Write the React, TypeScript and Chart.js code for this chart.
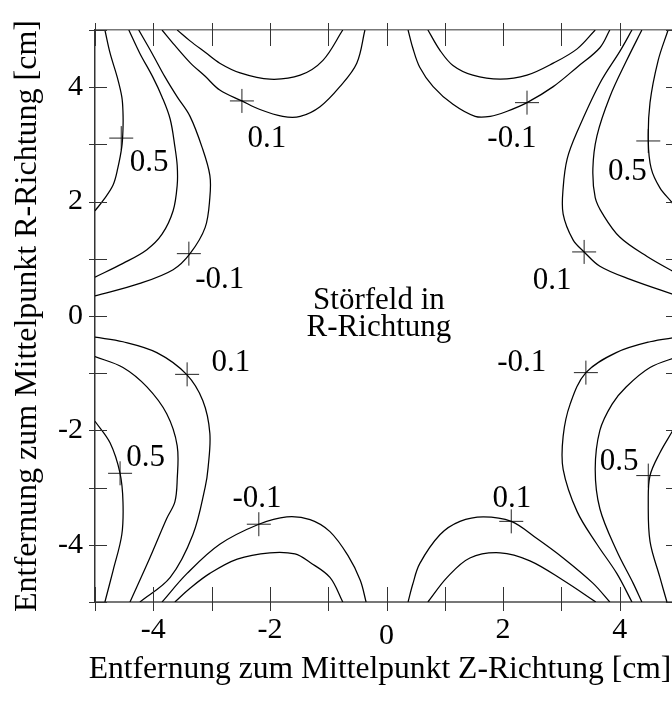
import React, { useEffect, useRef } from 'react';
import { Chart, registerables } from 'chart.js';
Chart.register(...registerables);

type P = [number, number];

// ---- contour lines (data units, cm) ----
// top-left quadrant
const curveTL_A: P[] = [[-4.83, 5.0], [-4.74, 4.59], [-4.62, 4.18], [-4.54, 3.83], [-4.52, 3.56], [-4.52, 3.27], [-4.54, 2.96], [-4.61, 2.58], [-4.69, 2.29], [-4.86, 2.02], [-5.0, 1.84]];
const curveTL_B: P[] = [[-4.42, 5.0], [-4.23, 4.59], [-4.01, 4.18], [-3.85, 3.83], [-3.71, 3.44], [-3.63, 2.96], [-3.59, 2.63], [-3.59, 2.29], [-3.66, 1.84], [-3.85, 1.43], [-4.11, 1.16], [-4.52, 0.92], [-5.0, 0.68]];
const curveTL_C: P[] = [[-4.25, 5.0], [-4.02, 4.59], [-3.80, 4.18], [-3.59, 3.83], [-3.37, 3.49], [-3.16, 2.94], [-3.03, 2.46], [-3.03, 2.07], [-3.11, 1.55], [-3.37, 1.09], [-3.66, 0.81], [-4.23, 0.57], [-5.0, 0.35]];
const curveTL_D: P[] = [[-3.85, 5.0], [-3.63, 4.73], [-3.37, 4.43], [-3.11, 4.19], [-2.86, 3.95], [-2.48, 3.76], [-2.17, 3.61], [-1.78, 3.49], [-1.48, 3.49], [-1.14, 3.66], [-0.80, 4.01], [-0.51, 4.42], [-0.37, 5.0]];
const curveTL_E: P[] = [[-3.59, 5.0], [-3.37, 4.81], [-3.11, 4.61], [-2.86, 4.42], [-2.51, 4.25], [-2.00, 4.14], [-1.48, 4.21], [-1.09, 4.47], [-0.75, 5.0]];
// top-right quadrant
const curveTR_A: P[] = [[4.83, 5.0], [4.66, 4.47], [4.52, 3.73], [4.49, 3.06], [4.54, 2.58], [4.69, 2.24], [4.90, 1.98], [5.0, 1.84]];
const curveTR_B: P[] = [[4.38, 5.0], [4.12, 4.47], [3.83, 3.83], [3.61, 3.15], [3.54, 2.58], [3.58, 2.07], [3.71, 1.78], [4.00, 1.38], [4.47, 1.04], [5.0, 0.73]];
const curveTR_C: P[] = [[4.21, 5.0], [4.01, 4.64], [3.66, 4.07], [3.27, 3.22], [3.10, 2.75], [3.03, 2.24], [3.03, 1.78], [3.20, 1.33], [3.39, 1.12], [3.66, 0.87], [4.18, 0.64], [5.0, 0.35]];
const curveTR_D: P[] = [[0.37, 5.0], [0.45, 4.69], [0.57, 4.35], [0.80, 4.01], [1.14, 3.70], [1.52, 3.49], [1.78, 3.49], [2.07, 3.58], [2.41, 3.73], [2.86, 4.01], [3.27, 4.35], [3.66, 4.69], [3.83, 5.0]];
const curveTR_E: P[] = [[0.71, 5.0], [0.92, 4.64], [1.14, 4.38], [1.48, 4.21], [1.95, 4.14], [2.41, 4.21], [2.86, 4.42], [3.27, 4.67], [3.58, 5.0]];
// bottom-left quadrant
const curveBL_A: P[] = [[-5.0, -1.84], [-4.74, -2.22], [-4.57, -2.75], [-4.52, -3.25], [-4.54, -3.82], [-4.69, -4.45], [-4.83, -5.0]];
const curveBL_B: P[] = [[-5.0, -0.71], [-4.52, -0.90], [-4.11, -1.24], [-3.77, -1.71], [-3.59, -2.27], [-3.59, -2.86], [-3.63, -3.25], [-3.77, -3.54], [-4.06, -4.23], [-4.40, -5.0]];
const curveBL_C: P[] = [[-5.0, -0.37], [-4.52, -0.45], [-3.94, -0.64], [-3.43, -1.02], [-3.15, -1.48], [-3.03, -2.05], [-3.06, -2.65], [-3.11, -2.99], [-3.32, -3.82], [-3.71, -4.57], [-4.23, -5.0]];
const curveBL_D: P[] = [[-3.85, -5.0], [-3.42, -4.50], [-2.86, -3.99], [-2.19, -3.64], [-1.71, -3.51], [-1.31, -3.56], [-0.97, -3.77], [-0.66, -4.19], [-0.45, -4.62], [-0.35, -5.0]];
const curveBL_E: P[] = [[-3.63, -5.0], [-3.37, -4.76], [-3.03, -4.50], [-2.56, -4.25], [-2.00, -4.14], [-1.57, -4.16], [-1.31, -4.31], [-0.97, -4.57], [-0.75, -5.0]];
// bottom-right quadrant
const curveBR_A: P[] = [[5.0, -1.84], [4.90, -2.02], [4.69, -2.39], [4.52, -2.79], [4.49, -3.25], [4.52, -3.94], [4.69, -4.57], [4.81, -5.0]];
const curveBR_B: P[] = [[5.0, -0.71], [4.52, -0.90], [4.11, -1.24], [3.87, -1.54], [3.66, -2.00], [3.58, -2.68], [3.66, -3.37], [3.95, -4.11], [4.23, -4.67], [4.38, -5.0]];
const curveBR_C: P[] = [[5.0, -0.37], [4.52, -0.45], [3.94, -0.64], [3.42, -0.99], [3.15, -1.54], [3.03, -2.10], [3.03, -2.68], [3.27, -3.42], [3.61, -3.99], [3.95, -4.50], [4.21, -5.0]];
const curveBR_D: P[] = [[0.37, -5.0], [0.45, -4.69], [0.57, -4.33], [0.92, -3.82], [1.26, -3.59], [1.66, -3.51], [2.14, -3.59], [2.58, -3.89], [3.03, -4.23], [3.54, -4.67], [3.83, -5.0]];
const curveBR_E: P[] = [[0.71, -5.0], [1.04, -4.57], [1.43, -4.23], [1.95, -4.14], [2.46, -4.28], [3.03, -4.62], [3.59, -5.0]];

// label crosses
const crossX = [-4.55, -2.48, -3.39, 2.41, 4.49, 3.39, -3.42, -4.57, -2.19, 2.14, 4.49, 3.42];
const crossY = [3.11, 3.76, 1.09, 3.73, 3.06, 1.12, -1.02, -2.75, -3.64, -3.59, -2.79, -0.99];

// level labels
const labelText = ['0.1', '0.5', '-0.1', '-0.1', '0.5', '0.1', '0.1', '0.5', '-0.1', '0.1', '0.5', '-0.1'];
const labelX = [-2.05, -4.07, -2.86, 2.15, 4.13, 2.84, -2.67, -4.13, -2.22, 2.15, 3.99, 2.32];
const labelY = [2.96, 2.53, 0.49, 2.96, 2.38, 0.47, -0.97, -2.62, -3.34, -3.34, -2.70, -0.97];

const centerText = ['Störfeld in', 'R-Richtung'];
const centerX = [-0.13, -0.13];
const centerY = [0.13, -0.35];

const tickValues = [-5, -4, -3, -2, -1, 0, 1, 2, 3, 4, 5];
const labeledTicks = [-4, -2, 0, 2, 4];

const xTitle = 'Entfernung zum Mittelpunkt Z-Richtung [cm]';
const yTitle = 'Entfernung zum Mittelpunkt R-Richtung [cm]';

const FAMILY = "'Liberation Serif', 'Times New Roman', serif";

export default function App() {
  const ref = useRef<HTMLCanvasElement>(null);

  useEffect(() => {
    const canvas = ref.current;
    if (!canvas) return;

    const curves: P[][] = [
      curveTL_A, curveTL_B, curveTL_C, curveTL_D, curveTL_E,
      curveTR_A, curveTR_B, curveTR_C, curveTR_D, curveTR_E,
      curveBL_A, curveBL_B, curveBL_C, curveBL_D, curveBL_E,
      curveBR_A, curveBR_B, curveBR_C, curveBR_D, curveBR_E,
    ];

    const lineSets = curves.map((c) => ({
      data: c.map(([x, y]) => ({ x, y })),
      showLine: true,
      pointRadius: 0,
      borderColor: '#000',
      borderWidth: 1.25,
      tension: 0.35,
      fill: false,
    }));

    const crossSet = {
      data: crossX.map((x, i) => ({ x, y: crossY[i] })),
      showLine: false,
      pointStyle: 'cross',
      pointRadius: 12,
      borderColor: '#222',
      borderWidth: 1,
      backgroundColor: 'transparent',
    };

    const annot = {
      id: 'annot',
      afterDatasetsDraw(chart: any) {
        const { ctx, chartArea } = chart;
        const xs = chart.scales.x;
        const ys = chart.scales.y;
        const { left, right, top, bottom } = chartArea;
        ctx.save();
        ctx.strokeStyle = '#333';
        ctx.lineWidth = 1;
        const seg = (a: number, b: number, c: number, d: number) => {
          ctx.beginPath();
          ctx.moveTo(a, b);
          ctx.lineTo(c, d);
          ctx.stroke();
        };
        tickValues.forEach((v) => {
          const px = Math.round(xs.getPixelForValue(v)) + 0.5;
          seg(px, bottom - 15, px, bottom + 9);
          seg(px, top - 7, px, top + 16);
          const py = Math.round(ys.getPixelForValue(v)) + 0.5;
          seg(left - 6, py, left + 12, py);
          seg(right - 12, py, right + 6, py);
        });
        ctx.fillStyle = '#000';
        ctx.font = `31px ${FAMILY}`;
        ctx.textAlign = 'center';
        ctx.textBaseline = 'alphabetic';
        labelText.forEach((t, i) => {
          ctx.fillText(t, xs.getPixelForValue(labelX[i]), ys.getPixelForValue(labelY[i]));
        });
        centerText.forEach((t, i) => {
          ctx.fillText(t, xs.getPixelForValue(centerX[i]), ys.getPixelForValue(centerY[i]));
        });
        // x-axis title (drawn here so it may extend past the plot width, as in the original)
        ctx.font = `31.6px ${FAMILY}`;
        ctx.fillText(xTitle, (left + right) / 2 - 6.5, bottom + 76);
        ctx.restore();
      },
    };

    const tickCallback = (v: any) => {
      const n = Number(v);
      return labeledTicks.includes(n) ? String(n) : '';
    };

    const chart = new Chart(canvas, {
      type: 'scatter',
      data: { datasets: [...lineSets, crossSet] as any },
      options: {
        responsive: false,
        animation: false,
        events: [],
        layout: { padding: { top: 19, right: 22, bottom: 0, left: 0 } },
        plugins: { legend: { display: false }, tooltip: { enabled: false } },
        scales: {
          x: {
            type: 'linear',
            position: 'bottom',
            min: -5,
            max: 5,
            afterFit: (s: any) => { s.height = 100; },
            grid: { display: false, drawTicks: false, tickLength: 0 },
            border: { display: true, color: '#777', width: 2 },
            ticks: {
              stepSize: 1,
              autoSkip: false,
              maxRotation: 0,
              padding: 10,
              color: '#000',
              font: (ctx: any) => ({
                family: FAMILY,
                size: 30,
                lineHeight: ctx.tick && ctx.tick.value === 0 ? 1.63 : 1.2,
              }),
              callback: tickCallback,
            },
            title: { display: false },
          },
          xTop: {
            type: 'linear',
            axis: 'x',
            position: 'top',
            min: -5,
            max: 5,
            afterFit: (s: any) => { s.height = 0; },
            grid: { display: false, drawTicks: false, tickLength: 0 },
            border: { display: true, color: '#777', width: 1.5 },
            ticks: { display: false },
          },
          y: {
            type: 'linear',
            position: 'left',
            min: -5,
            max: 5,
            afterFit: (s: any) => { s.width = 95; },
            grid: { display: false, drawTicks: false, tickLength: 0 },
            border: { display: true, color: '#333', width: 1.5 },
            ticks: {
              stepSize: 1,
              autoSkip: false,
              padding: 12,
              color: '#000',
              font: { family: FAMILY, size: 30, lineHeight: 1.2 },
              callback: tickCallback,
            },
            title: {
              display: true,
              text: yTitle,
              color: '#000',
              font: { family: FAMILY, size: 32, lineHeight: 1.2 },
              padding: { top: 8, bottom: 0 },
            },
          },
        } as any,
      },
      plugins: [annot],
    });

    return () => chart.destroy();
  }, []);

  return (
    <div style={{ position: 'absolute', left: 0, top: 0, width: 672, height: 702, overflow: 'hidden', background: '#fff' }}>
      <canvas ref={ref} width={700} height={702} style={{ display: 'block', width: 700, height: 702 }} />
    </div>
  );
}
